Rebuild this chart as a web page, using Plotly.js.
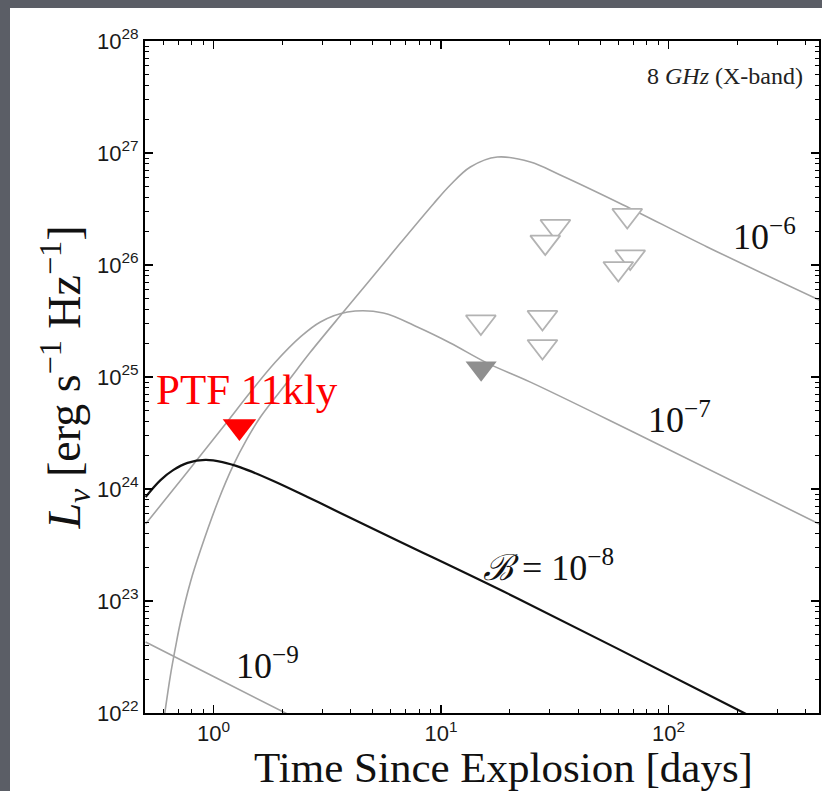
<!DOCTYPE html>
<html>
<head>
<meta charset="utf-8">
<script src="https://cdn.plot.ly/plotly-3.0.1.min.js"></script>
<style>
  html, body { margin: 0; padding: 0; width: 822px; height: 791px; background: #5b5e66; overflow: hidden; }
  #chart { position: absolute; left: 10px; top: 8px; width: 812px; height: 783px; background: #fff; }
</style>
</head>
<body>
<div id="chart"></div>
<script>
// ---- Data (time in days, L_nu in erg/s/Hz) ----
// Model curve B = 1e-6
const t6 = [0.603, 0.647, 0.681, 0.716, 0.792, 0.877, 1.052, 1.224, 1.396, 1.608, 2.113, 2.667, 3.72, 4.75, 6.63, 9.25, 10.98, 13.45, 17.67, 24.7, 33.4, 63.2, 147.8, 459];
const L6 = [8.3e21, 2.18e22, 3.88e22, 6.49e22, 1.48e23, 2.85e23, 7.98e23, 1.64e24, 2.74e24, 4.40e24, 9.02e24, 1.67e25, 3.80e25, 6.9e25, 1.57e26, 3.51e26, 5.18e26, 7.50e26, 9.2e26, 8.3e26, 6.37e26, 3.44e26, 1.45e26, 4.87e25];
// Model curve B = 1e-7
const t7 = [0.503, 0.647, 0.859, 1.129, 1.454, 1.872, 2.41, 2.95, 3.88, 5.58, 7.87, 10.98, 15.97, 24.7, 69.9, 459];
const L7 = [4.87e23, 9.21e23, 1.89e24, 3.80e24, 7.34e24, 1.36e25, 2.28e25, 3.10e25, 3.80e25, 3.73e25, 2.79e25, 2.01e25, 1.33e25, 9.0e24, 3.23e24, 4.87e23];
// Model curve B = 1e-8 (black)
const t8 = [0.503, 0.585, 0.667, 0.769, 0.922, 1.095, 1.314, 1.834, 2.588, 3.61, 6.63, 21.6, 210.5, 251.7];
const L8 = [8.49e23, 1.20e24, 1.48e24, 1.71e24, 1.82e24, 1.74e24, 1.56e24, 1.18e24, 8.49e23, 6.11e23, 3.37e23, 1.06e23, 1.02e22, 8.5e21];
// Model curve B = 1e-9
const t9 = [0.503, 1.0, 2.41];
const L9 = [4.3e22, 2.12e22, 8.55e21];

// Upper limits (open grey triangles)
const tOpen = [14.96, 27.9, 27.9, 31.8, 28.7, 67.8, 65.8, 60.1];
const LOpen = [3.10e25, 3.40e25, 1.87e25, 2.21e26, 1.60e26, 1.18e26, 2.77e26, 9.3e25];
// Filled grey triangle
const tFill = [15.0];
const LFill = [1.20e25];
// PTF 11kly (red)
const tPTF = [1.30];
const LPTF = [3.61e24];

// Tick labels
const xTickVals = [1, 10, 100];
const xTickText = ['10<sup>0</sup>', '10<sup>1</sup>', '10<sup>2</sup>'];
const yTickVals = [1e22, 1e23, 1e24, 1e25, 1e26, 1e27, 1e28];
const yTickText = ['10<sup>22</sup>', '10<sup>23</sup>', '10<sup>24</sup>', '10<sup>25</sup>', '10<sup>26</sup>', '10<sup>27</sup>', '10<sup>28</sup>'];

const grey = '#a3a3a3';
const serif = 'Liberation Serif, Times New Roman, serif';
const pad = '\u200B\u00A0\u00A0\u00A0\u00A0';

const traces = [
  {x: t9, y: L9, mode: 'lines', line: {color: grey, width: 1.6, shape: 'spline'}},
  {x: t6, y: L6, mode: 'lines', line: {color: grey, width: 1.6, shape: 'spline'}},
  {x: t7, y: L7, mode: 'lines', line: {color: grey, width: 1.6, shape: 'spline'}},
  {x: t8, y: L8, mode: 'lines', line: {color: '#111', width: 2.2, shape: 'spline'}},
  {x: tOpen, y: LOpen, mode: 'markers', marker: {symbol: 'triangle-down', size: 26, color: '#fff', line: {color: '#b3b3b3', width: 1.8}}},
  {x: tFill, y: LFill, mode: 'markers', marker: {symbol: 'triangle-down', size: 27, color: '#8f8f8f', line: {width: 0}}},
  {x: tPTF, y: LPTF, mode: 'markers', marker: {symbol: 'triangle-down', size: 29, color: '#ff0000', line: {width: 0}}}
];

const axisCommon = {
  type: 'log', tickmode: 'array', ticks: 'inside', ticklen: 8, tickwidth: 1.5, tickcolor: '#000',
  showline: true, linecolor: '#000', linewidth: 2, mirror: 'allticks', showgrid: false, zeroline: false,
  tickfont: {family: 'Liberation Sans, Arial, sans-serif', size: 22, color: '#1a1a1a'},
  minor: {ticks: 'inside', ticklen: 4, tickwidth: 1, tickcolor: '#000', dtick: 'D1', showgrid: false}
};

const layout = {
  width: 812, height: 783,
  margin: {l: 135, r: 3, t: 33, b: 78},
  paper_bgcolor: '#fff', plot_bgcolor: '#fff',
  showlegend: false,
  xaxis: Object.assign({}, axisCommon, {
    range: [Math.log10(0.5), Math.log10(458)],
    tickvals: xTickVals, ticktext: xTickText,
    title: {text: pad + 'Time Since Explosion [days]', standoff: 6, font: {family: serif, size: 43, color: '#111'}}
  }),
  yaxis: Object.assign({}, axisCommon, {
    range: [22, 28],
    tickvals: yTickVals, ticktext: yTickText,
    title: {text: '<i>L</i><sub><i>ν</i></sub> [erg s<sup>−1</sup> Hz<sup>−1</sup>]', standoff: 2, font: {family: serif, size: 46, color: '#111'}}
  }),
  annotations: [
    {xref: 'x', yref: 'y', x: 2.2486, y: 27.6875, text: '8 <i>GHz</i> (X-band)', showarrow: false, font: {family: serif, size: 24, color: '#222'}},
    {xref: 'x', yref: 'y', x: 0.149, y: 24.885, text: 'PTF 11kly', showarrow: false, font: {family: serif, size: 43, color: '#ff0000'}},
    {xref: 'x', yref: 'y', x: 2.420, y: 26.27, text: '10<sup>−6</sup>', showarrow: false, font: {family: serif, size: 36, color: '#111'}},
    {xref: 'x', yref: 'y', x: 2.0466, y: 24.634, text: '10<sup>−7</sup>', showarrow: false, font: {family: serif, size: 36, color: '#111'}},
    {xref: 'x', yref: 'y', x: 1.471, y: 23.321, text: '<i>ℬ</i> = 10<sup>−8</sup>', showarrow: false, font: {family: serif, size: 36, color: '#111'}},
    {xref: 'x', yref: 'y', x: 0.237, y: 22.446, text: '10<sup>−9</sup>', showarrow: false, font: {family: serif, size: 36, color: '#111'}}
  ]
};

Plotly.newPlot('chart', traces, layout, {displayModeBar: false, staticPlot: true});
</script>
</body>
</html>
